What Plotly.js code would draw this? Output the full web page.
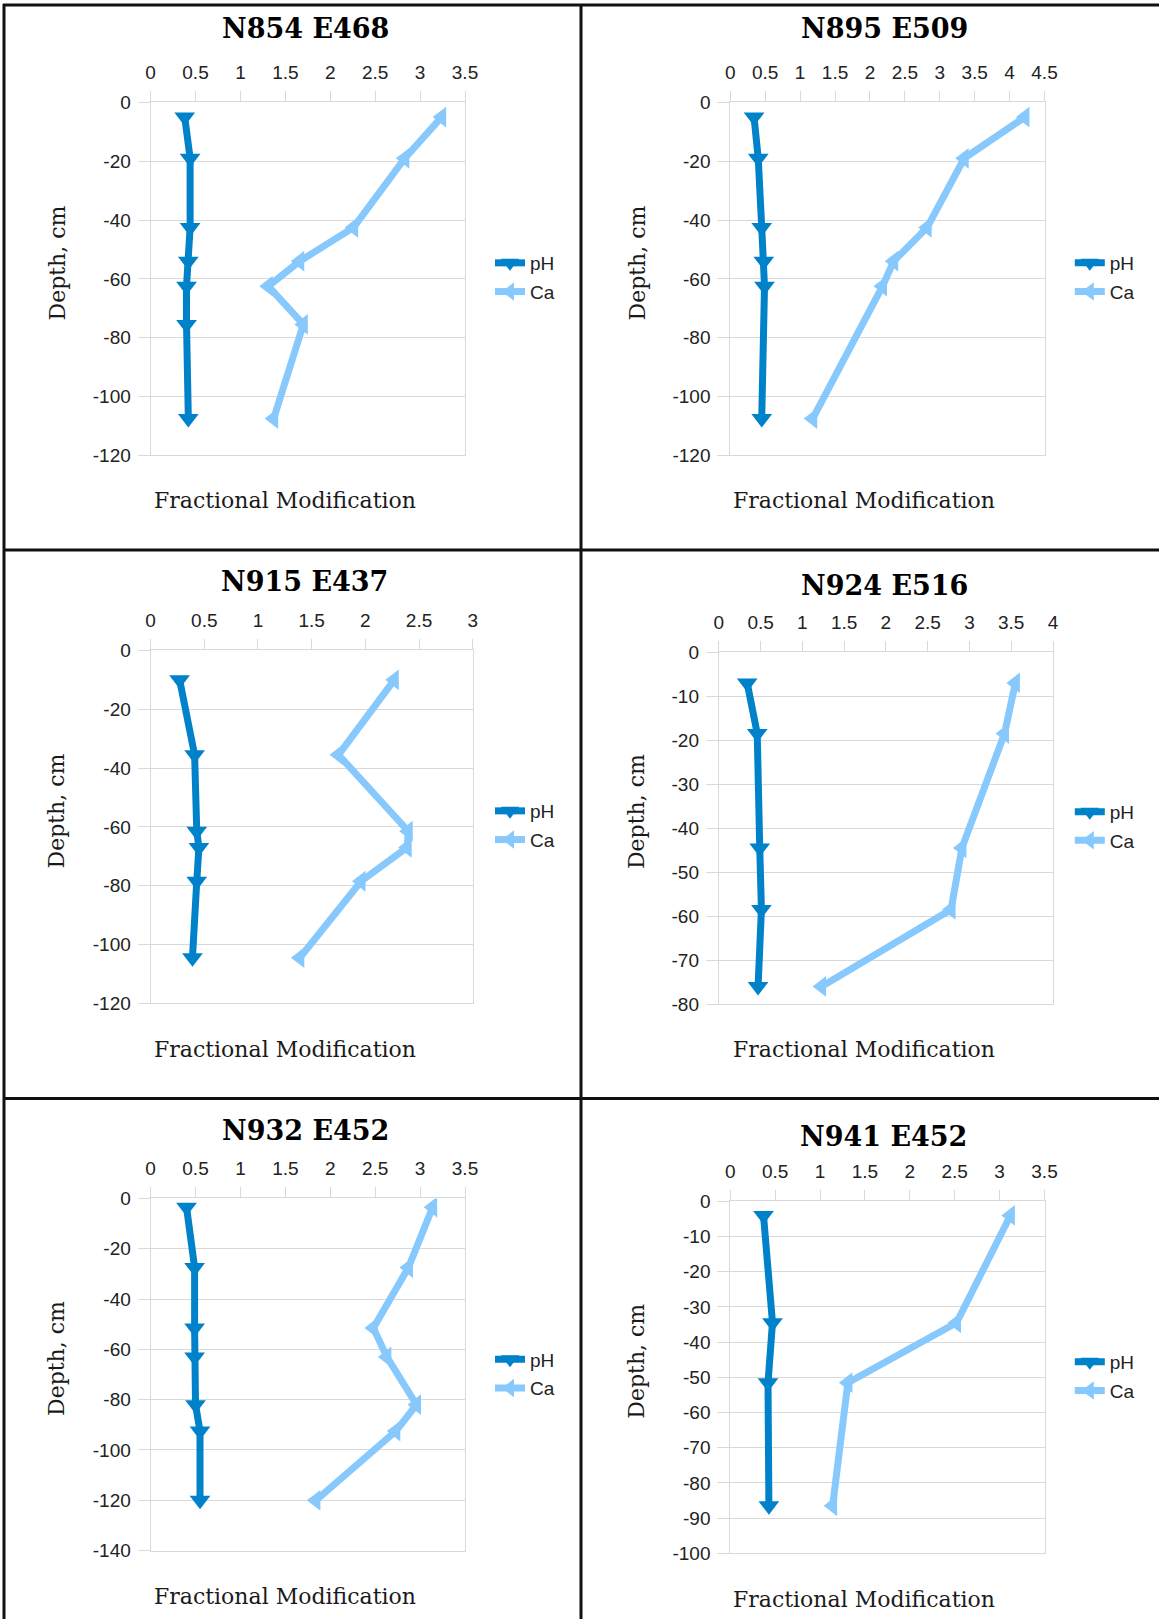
<!DOCTYPE html>
<html>
<head>
<meta charset="utf-8">
<script src="https://cdn.plot.ly/plotly-3.0.1.min.js"></script>
<style>html,body{margin:0;padding:0;background:#fff;}#chart{width:1159px;height:1619px;}</style>
</head>
<body>
<div id="chart"></div>
<script>
// ---- data ----
const panelTitles = ['N854 E468', 'N895 E509', 'N915 E437', 'N924 E516', 'N932 E452', 'N941 E452'];
const seriesNames = ['pH', 'Ca'];
const xAxisTitle = 'Fractional Modification';
const yAxisTitle = 'Depth, cm';

const depth1 = [-5, -19, -42.5, -54, -62.5, -75.5, -107.5];
const ph1 = [0.38, 0.44, 0.44, 0.42, 0.40, 0.40, 0.42];
const ca1 = [3.24, 2.83, 2.26, 1.66, 1.31, 1.70, 1.37];

const depth2 = [-5, -19, -42.5, -54, -62.5, -107.5];
const ph2 = [0.34, 0.40, 0.45, 0.48, 0.49, 0.45];
const ca2 = [4.22, 3.35, 2.82, 2.34, 2.18, 1.18];

const depth3 = [-10, -35.5, -61.5, -67, -78.5, -104.5];
const ph3 = [0.27, 0.41, 0.43, 0.45, 0.43, 0.39];
const ca3 = [2.27, 1.75, 2.40, 2.39, 1.96, 1.39];

const depth4 = [-7, -18.5, -44.5, -58.5, -76];
const ph4 = [0.34, 0.46, 0.49, 0.51, 0.47];
const ca4 = [3.55, 3.42, 2.91, 2.78, 1.23];

const depth5 = [-3.5, -27.5, -51.5, -63, -82, -92.5, -120];
const ph5 = [0.40, 0.49, 0.49, 0.49, 0.50, 0.55, 0.55];
const ca5 = [3.14, 2.87, 2.48, 2.63, 2.96, 2.73, 1.84];

const depth6 = [-4, -34.5, -51.5, -86.5];
const ph6 = [0.37, 0.47, 0.42, 0.43];
const ca6 = [3.12, 2.52, 1.31, 1.14];

// axis ranges and tick labels
const xMax = [3.5, 4.5, 3, 4, 3.5, 3.5];
const xTickVals = [
  [0, 0.5, 1, 1.5, 2, 2.5, 3, 3.5],
  [0, 0.5, 1, 1.5, 2, 2.5, 3, 3.5, 4, 4.5],
  [0, 0.5, 1, 1.5, 2, 2.5, 3],
  [0, 0.5, 1, 1.5, 2, 2.5, 3, 3.5, 4],
  [0, 0.5, 1, 1.5, 2, 2.5, 3, 3.5],
  [0, 0.5, 1, 1.5, 2, 2.5, 3, 3.5]
];
const xTickText = [
  ['0', '0.5', '1', '1.5', '2', '2.5', '3', '3.5'],
  ['0', '0.5', '1', '1.5', '2', '2.5', '3', '3.5', '4', '4.5'],
  ['0', '0.5', '1', '1.5', '2', '2.5', '3'],
  ['0', '0.5', '1', '1.5', '2', '2.5', '3', '3.5', '4'],
  ['0', '0.5', '1', '1.5', '2', '2.5', '3', '3.5'],
  ['0', '0.5', '1', '1.5', '2', '2.5', '3', '3.5']
];
const yTickVals = [
  [0, -20, -40, -60, -80, -100, -120],
  [0, -20, -40, -60, -80, -100, -120],
  [0, -20, -40, -60, -80, -100, -120],
  [0, -10, -20, -30, -40, -50, -60, -70, -80],
  [0, -20, -40, -60, -80, -100, -120, -140],
  [0, -10, -20, -30, -40, -50, -60, -70, -80, -90, -100]
];
const yTickText = [
  ['0', '-20', '-40', '-60', '-80', '-100', '-120'],
  ['0', '-20', '-40', '-60', '-80', '-100', '-120'],
  ['0', '-20', '-40', '-60', '-80', '-100', '-120'],
  ['0', '-10', '-20', '-30', '-40', '-50', '-60', '-70', '-80'],
  ['0', '-20', '-40', '-60', '-80', '-100', '-120', '-140'],
  ['0', '-10', '-20', '-30', '-40', '-50', '-60', '-70', '-80', '-90', '-100']
];

// ---- layout geometry (pixels in the 1159x1619 page) ----
const W = 1159, H = 1619;
const px = v => v / W;
const py = v => 1 - v / H;
const depths = [depth1, depth2, depth3, depth4, depth5, depth6];
const phs = [ph1, ph2, ph3, ph4, ph5, ph6];
const cas = [ca1, ca2, ca3, ca4, ca5, ca6];

const boxes = [
  [150.6, 465.0, 102.4, 455.3],
  [730.3, 1044.5, 102.4, 455.3],
  [150.6, 472.7, 650.4, 1003.3],
  [718.8, 1053.0, 652.2, 1004.0],
  [150.6, 465.0, 1198.4, 1550.6],
  [730.3, 1044.5, 1201.4, 1553.3]
];
const titlePos = [[305, 28.5], [884.6, 28.5], [304, 581.5], [884.6, 585.5], [305, 1130.5], [883.5, 1136.5]];
const xTitlePos = [[284.8, 501], [864.3, 501], [284.8, 1049], [864.3, 1049.6], [284.8, 1596.3], [864.3, 1599.7]];
const yTitlePos = [[56.5, 263], [636.5, 263], [56.5, 811], [636.5, 811.6], [56.5, 1358.5], [636.5, 1361.2]];
const legendPos = [[490, 277.5], [1069.8, 277.5], [490, 825.5], [1069.8, 826.3], [490, 1374], [1069.8, 1376.5]];

const PH_COLOR = '#0082CB';
const CA_COLOR = '#88C9FD';
const GRID = '#d9d9d9';
const tickFont = {family: 'Liberation Sans, Arial, sans-serif', size: 19, color: '#222'};

const data = [];
const layout = {
  width: W, height: H,
  margin: {l: 0, r: 0, t: 0, b: 0},
  paper_bgcolor: '#fff', plot_bgcolor: '#fff',
  showlegend: true,
  annotations: [],
  shapes: []
};

for (let i = 0; i < 6; i++) {
  const n = i + 1;
  const xa = n === 1 ? 'x' : 'x' + n;
  const ya = n === 1 ? 'y' : 'y' + n;
  const lg = n === 1 ? 'legend' : 'legend' + n;
  data.push({
    type: 'scatter', mode: 'lines+markers', name: seriesNames[0],
    x: phs[i], y: depths[i], xaxis: xa, yaxis: ya, legend: lg, legendgroup: 'ph' + n,
    line: {color: PH_COLOR, width: 7},
    marker: {symbol: 'triangle-down', size: 18, color: PH_COLOR},
    hoverinfo: 'skip'
  });
  data.push({
    type: 'scatter', mode: 'lines+markers', name: seriesNames[1],
    x: cas[i], y: depths[i], xaxis: xa, yaxis: ya, legend: lg, legendgroup: 'ca' + n,
    line: {color: CA_COLOR, width: 7},
    marker: {symbol: 'triangle-left', size: 18, color: CA_COLOR},
    hoverinfo: 'skip'
  });
  const b = boxes[i];
  const yv = yTickVals[i];
  layout['xaxis' + (n === 1 ? '' : n)] = {
    domain: [px(b[0]), px(b[1])], anchor: ya, side: 'top',
    range: [0, xMax[i]], tickmode: 'array', tickvals: xTickVals[i], ticktext: xTickText[i],
    ticks: 'outside', ticklen: 10, tickcolor: GRID, tickwidth: 1, ticklabelstandoff: 5,
    showgrid: false, zeroline: false, showline: true, mirror: true, linecolor: GRID, linewidth: 1,
    tickfont: tickFont, fixedrange: true
  };
  layout['yaxis' + (n === 1 ? '' : n)] = {
    domain: [py(b[3]), py(b[2])], anchor: xa,
    range: [yv[yv.length - 1], 0], tickmode: 'array', tickvals: yv, ticktext: yTickText[i],
    ticks: 'outside', ticklen: 12, tickcolor: GRID, tickwidth: 1, ticklabelstandoff: 3,
    showgrid: true, gridcolor: GRID, gridwidth: 1,
    zeroline: false, showline: true, mirror: true, linecolor: GRID, linewidth: 1,
    tickfont: tickFont, fixedrange: true
  };
  layout[lg] = {
    x: px(legendPos[i][0]), y: py(legendPos[i][1]), xanchor: 'left', yanchor: 'middle',
    xref: 'paper', yref: 'paper', traceorder: 'grouped', tracegroupgap: 1,
    font: {family: 'Liberation Sans, Arial, sans-serif', size: 19, color: '#222'},
    bgcolor: 'rgba(0,0,0,0)', borderwidth: 0, itemwidth: 30
  };
  layout.annotations.push({
    text: '<b>' + panelTitles[i] + '</b>', xref: 'paper', yref: 'paper',
    x: px(titlePos[i][0]), y: py(titlePos[i][1]), xanchor: 'center', yanchor: 'middle',
    showarrow: false, font: {family: 'DejaVu Serif, serif', size: 27, color: '#000'}
  });
  layout.annotations.push({
    text: xAxisTitle, xref: 'paper', yref: 'paper',
    x: px(xTitlePos[i][0]), y: py(xTitlePos[i][1]), xanchor: 'center', yanchor: 'middle',
    showarrow: false, font: {family: 'DejaVu Serif, serif', size: 22, color: '#1a1a1a'}
  });
  layout.annotations.push({
    text: yAxisTitle, xref: 'paper', yref: 'paper', textangle: -90,
    x: px(yTitlePos[i][0]), y: py(yTitlePos[i][1]), xanchor: 'center', yanchor: 'middle',
    showarrow: false, font: {family: 'DejaVu Serif, serif', size: 22, color: '#1a1a1a'}
  });
}

// panel frame lines
const frame = [
  [3, 5, 1159, 5],
  [4, 4, 4, 1619],
  [581, 4, 581, 1619],
  [4, 550, 1159, 550],
  [4, 1098.5, 1159, 1098.5]
];
frame.forEach(f => layout.shapes.push({
  type: 'line', xref: 'paper', yref: 'paper', layer: 'above',
  x0: px(f[0]), y0: py(f[1]), x1: px(f[2]), y1: py(f[3]),
  line: {color: '#111', width: 3}
}));

Plotly.newPlot('chart', data, layout, {staticPlot: true, displayModeBar: false});
</script>
</body>
</html>
